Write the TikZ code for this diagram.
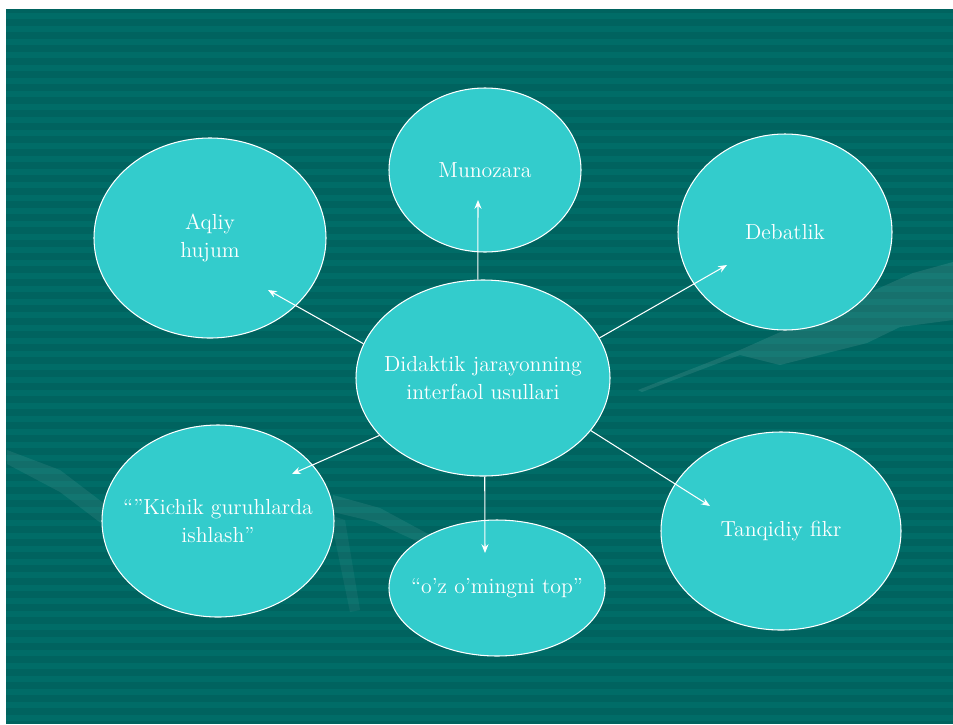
\documentclass[tikz,border=0pt]{standalone}
\usepackage{tikz}
\usetikzlibrary{arrows.meta,shapes.geometric}
\definecolor{slidebg}{RGB}{0,99,95}
\definecolor{slidestripe}{RGB}{0,108,103}
\definecolor{bubble}{RGB}{51,204,204}
\tikzset{
  idea/.style={ellipse, draw=white, line width=0.6pt, fill=bubble, text=white,
    align=center, inner xsep=-25pt, inner ysep=0pt, font=\fontsize{12.4}{16}\selectfont},
  link/.style={draw=white, line width=0.6pt, -{Stealth[length=5pt,width=4pt]}}
}
\begin{document}
\begin{tikzpicture}[x=0.02cm,y=-0.02cm]
\useasboundingbox (0,0) rectangle (953,724);
\fill [white] (0,0) rectangle (953,724);
\fill [slidebg] (6,9) rectangle (953,724);
\foreach \y in {13,26,...,720}
  \fill [slidestripe] (6,\y) rectangle (953,\y+6);
\fill [white, opacity=0.09] (638,390) -- (740,350) -- (913,273) -- (953,262) -- (953,320)
  -- (900,327) -- (867,343) -- (780,365) -- (740,355) -- (642,392) -- cycle;
\fill [white, opacity=0.07] (7,450) -- (60,470) -- (110,508) -- (110,530) -- (60,492) -- (7,464) -- cycle;
\fill [white, opacity=0.07] (333,495) -- (380,508) -- (430,535) -- (425,545) -- (375,522) -- (333,512) -- cycle;
\fill [white, opacity=0.05] (330,515) -- (345,520) -- (360,610) -- (350,612) -- cycle;

\node [idea, minimum width=232*0.02cm, minimum height=200*0.02cm] (aqliy) at (210,238) {Aqliy\\hujum};
\node [idea, minimum width=192*0.02cm, minimum height=164*0.02cm] (munozara) at (485,170) {Munozara};
\node [idea, minimum width=214*0.02cm, minimum height=196*0.02cm] (debat) at (785,232) {Debatlik};
\node [idea, minimum width=254*0.02cm, minimum height=196*0.02cm] (usul) at (483,378) {Didaktik jarayonning\\interfaol usullari};
\node [idea, minimum width=232*0.02cm, minimum height=192*0.02cm] (kichik) at (218,521) {“”Kichik guruhlarda\\ishlash”};
\node [idea, minimum width=216*0.02cm, minimum height=136*0.02cm] (ozop) at (497,588) {“o’z o’mingni top”};
\node [idea, minimum width=240*0.02cm, minimum height=198*0.02cm] (tanqid) at (781,531) {Tanqidiy fikr};

\coordinate (aqliyE) at (268,290);
\coordinate (munozaraE) at (478,200);
\coordinate (debatE) at (727,265);
\coordinate (kichikE) at (292,474);
\coordinate (ozopE) at (485,553);
\coordinate (tanqidE) at (710,506);

\draw [link] (usul.164) -- (aqliyE);
\draw [link] (usul.93) -- (munozaraE);
\draw [link] (usul.19) -- (debatE);
\draw [link] (usul.209) -- (kichikE);
\draw [link] (usul.271) -- (ozopE);
\draw [link] (usul.334) -- (tanqidE);
\end{tikzpicture}
\end{document}
